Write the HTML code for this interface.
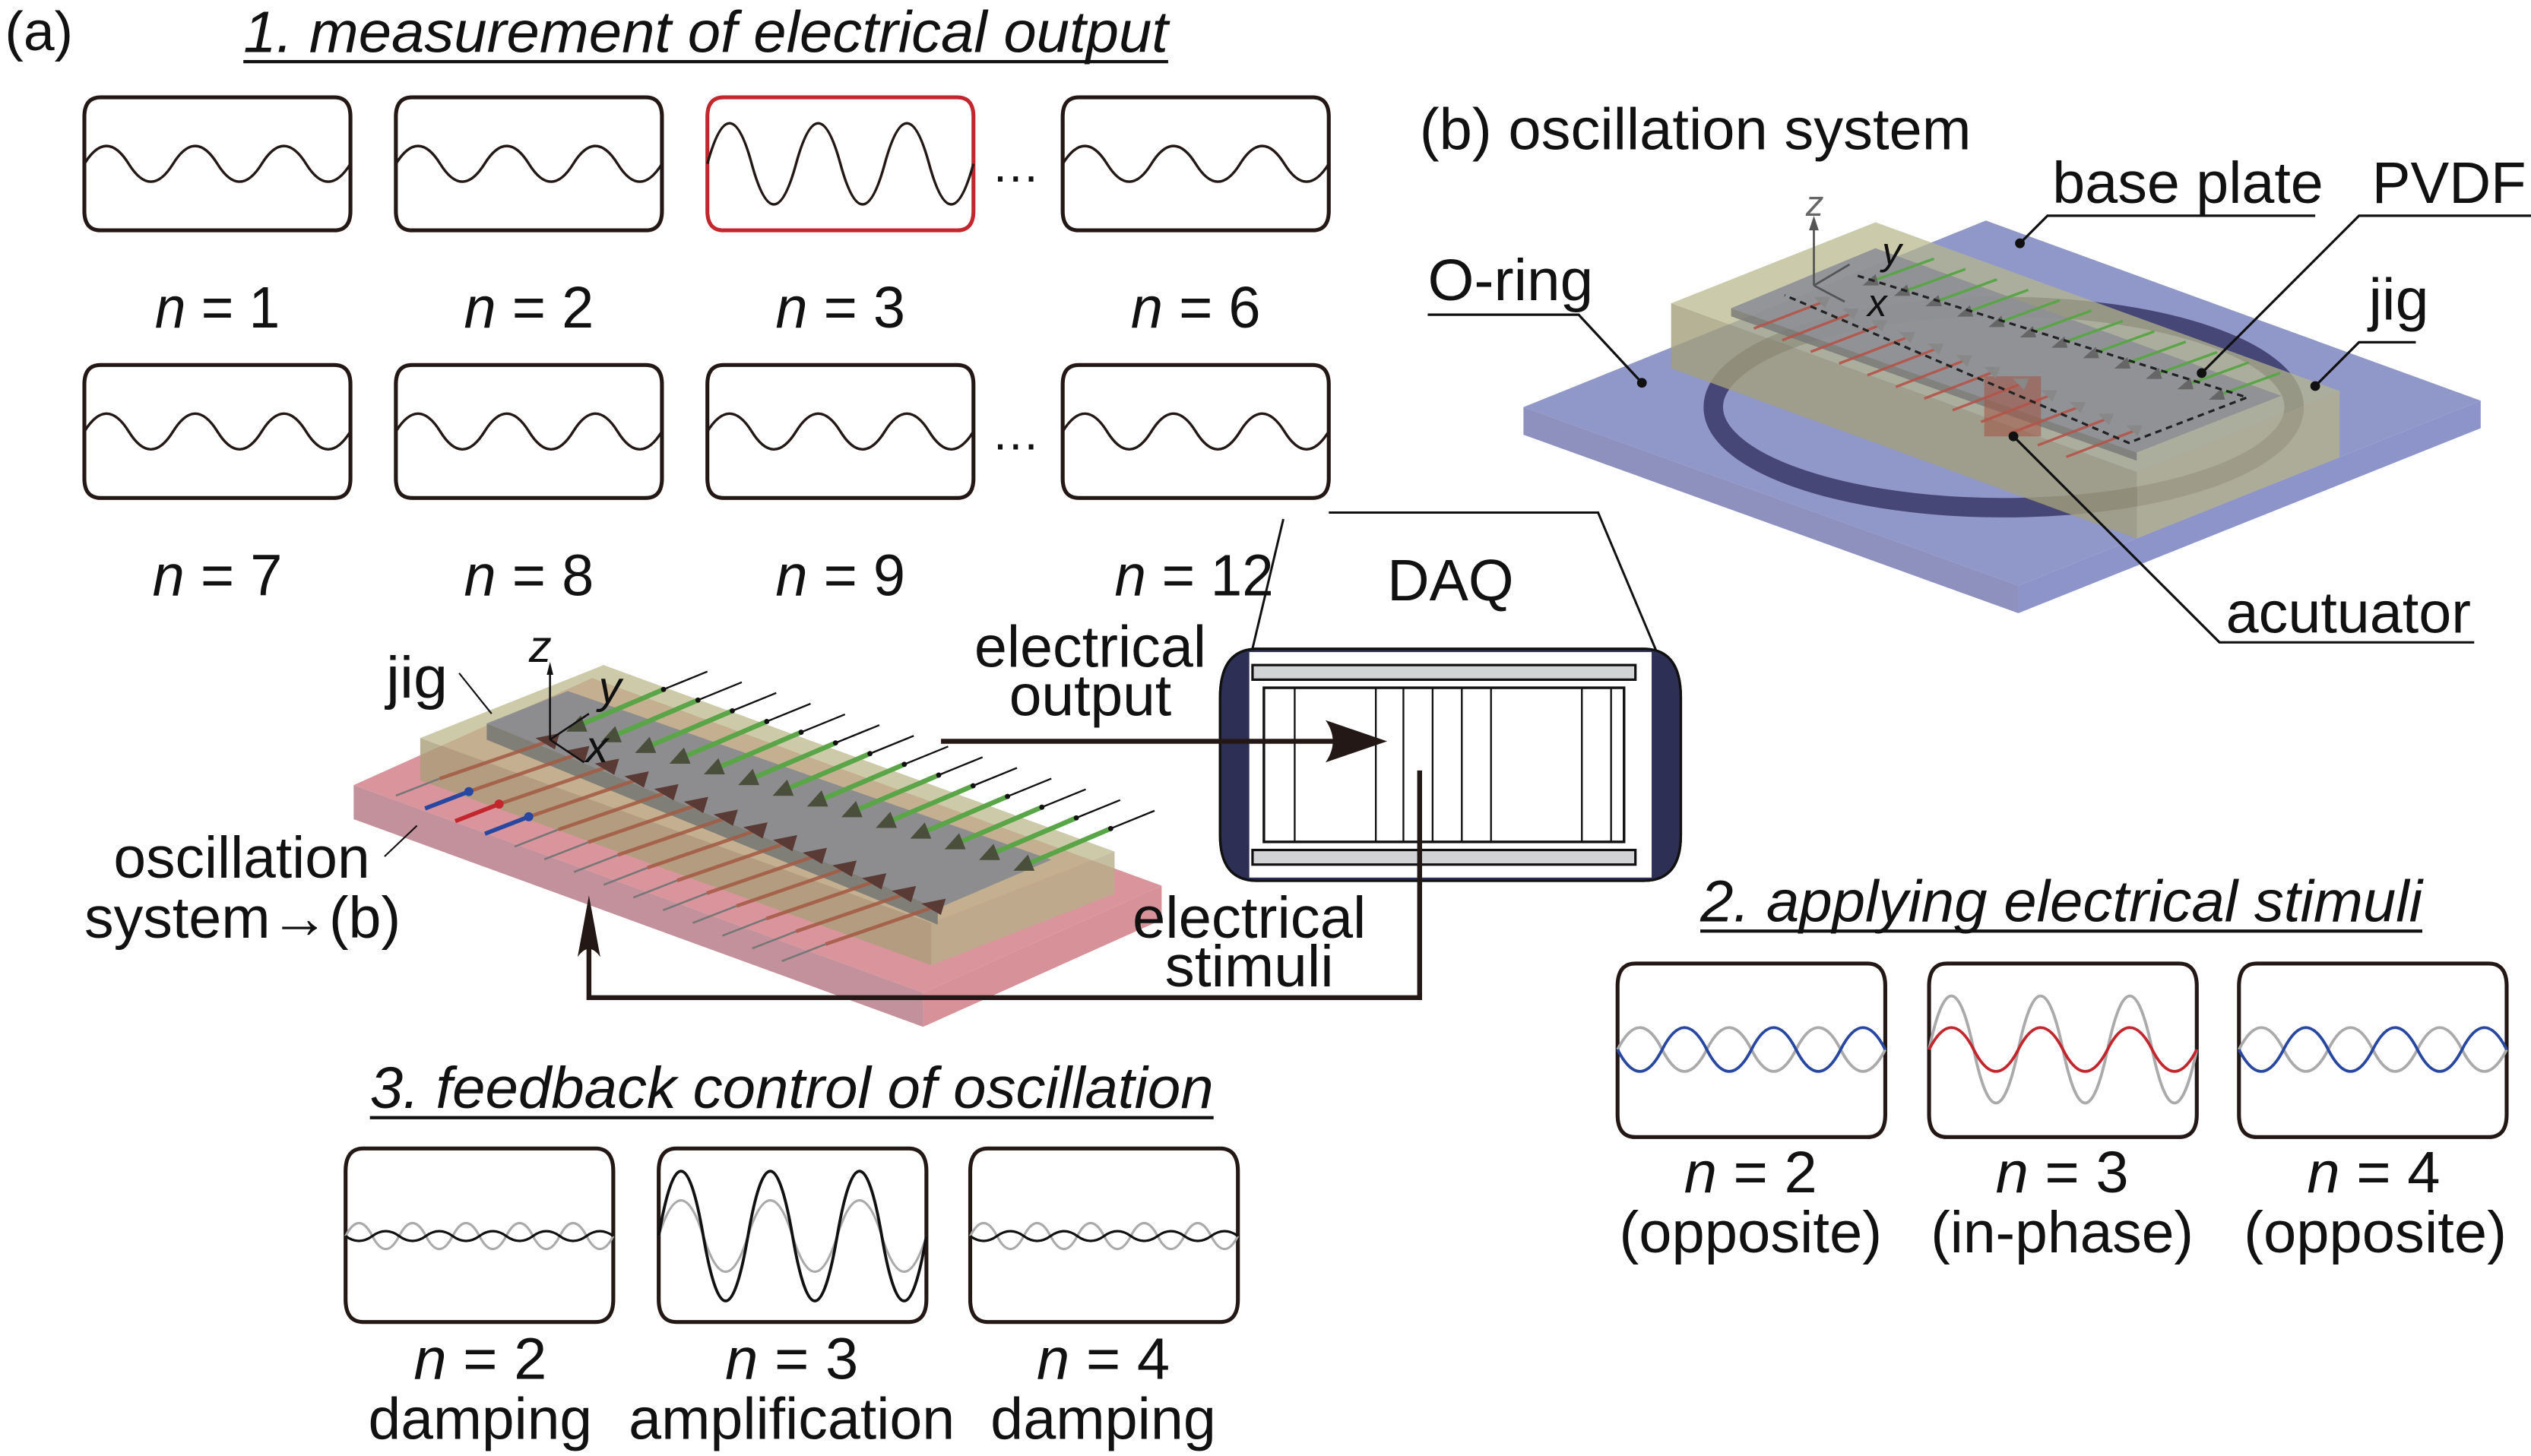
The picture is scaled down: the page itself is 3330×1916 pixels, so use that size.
<!DOCTYPE html>
<html><head><meta charset="utf-8"><style>
html,body{margin:0;padding:0;background:#fff;}
svg{display:block;}
text{font-family:"Liberation Sans",sans-serif;fill:#111;}
</style></head><body>
<svg width="3330" height="1916" viewBox="0 0 1560 897.6" preserveAspectRatio="none" xmlns="http://www.w3.org/2000/svg">
<defs>
<path id="w1" d="M0 0 q13.67 -22 27.33 0 t27.33 0 t27.33 0 t27.33 0 t27.33 0 t27.33 0" fill="none" stroke="#231815" stroke-width="1.6"/>
<path id="w1r" d="M0 0 q13.67 -50 27.33 0 t27.33 0 t27.33 0 t27.33 0 t27.33 0 t27.33 0" fill="none" stroke="#231815" stroke-width="1.6"/>
<path id="box" d="M10 0 H154 Q164 0 164 12 V70 Q164 82 154 82 H10 Q0 82 0 70 V12 Q0 0 10 0Z" fill="none" stroke="#231815" stroke-width="2.4"/>
<path id="box2" d="M11 0 H154 Q165 0 165 14 V93 Q165 107 154 107 H11 Q0 107 0 93 V14 Q0 0 11 0Z" fill="none" stroke="#231815" stroke-width="2.4"/>
<g id="ga">
<line x1="355" y1="448" x2="409" y2="425" stroke="#5aa547" stroke-width="3"/>
<line x1="409" y1="425" x2="436" y2="414" stroke="#111" stroke-width="1.1"/>
<circle cx="409" cy="425" r="1.6" fill="#111"/>
<polygon points="349,451 362,451 358,441" fill="#4a4f3c"/>
</g>
<g id="ra">
<line x1="338" y1="457" x2="271" y2="480" stroke="#a45a44" stroke-width="2.2" opacity="0.85"/>
<line x1="271" y1="480" x2="244" y2="490.5" stroke="#777" stroke-width="1.2"/>
<polygon points="330,455 345,452 342,462" fill="#5a3a35"/>
</g>
<g id="gb">
<line x1="1152" y1="174" x2="1192" y2="159.5" stroke="#5aa547" stroke-width="1.6"/>
<polygon points="1148,176 1158,176 1156,169" fill="#666"/>
</g>
<g id="rb">
<line x1="1124" y1="186" x2="1081" y2="202.5" stroke="#b5544a" stroke-width="1.6" opacity="0.9"/>
<polygon points="1118,183 1128,183 1125,190" fill="#888"/>
</g>
</defs>

<!-- (a) title -->
<text x="3" y="31" font-size="34" textLength="42" lengthAdjust="spacingAndGlyphs">(a)</text>
<text x="150" y="32" font-size="36" font-style="italic" textLength="570" lengthAdjust="spacingAndGlyphs">1. measurement of electrical output</text>
<line x1="150" y1="38" x2="720" y2="38" stroke="#111" stroke-width="2"/>

<!-- row1 -->
<g transform="translate(52,60)"><use href="#box"/><use href="#w1" y="41"/></g>
<g transform="translate(244,60)"><use href="#box"/><use href="#w1" y="41"/></g>
<g transform="translate(436,60)"><path d="M10 0 H154 Q164 0 164 12 V70 Q164 82 154 82 H10 Q0 82 0 70 V12 Q0 0 10 0Z" fill="none" stroke="#c1272d" stroke-width="2.4"/><use href="#w1r" y="41"/></g>
<g transform="translate(655,60)"><use href="#box"/><use href="#w1" y="41"/></g>
<text x="611" y="112" font-size="30">…</text>
<!-- row2 -->
<g transform="translate(52,225)"><use href="#box"/><use href="#w1" y="41"/></g>
<g transform="translate(244,225)"><use href="#box"/><use href="#w1" y="41"/></g>
<g transform="translate(436,225)"><use href="#box"/><use href="#w1" y="41"/></g>
<g transform="translate(655,225)"><use href="#box"/><use href="#w1" y="41"/></g>
<text x="611" y="277" font-size="30">…</text>

<g font-size="36" text-anchor="middle">
<text x="134" y="202" textLength="77" lengthAdjust="spacingAndGlyphs"><tspan font-style="italic">n</tspan> = 1</text>
<text x="326" y="202" textLength="80" lengthAdjust="spacingAndGlyphs"><tspan font-style="italic">n</tspan> = 2</text>
<text x="518" y="202" textLength="80" lengthAdjust="spacingAndGlyphs"><tspan font-style="italic">n</tspan> = 3</text>
<text x="737" y="202" textLength="80" lengthAdjust="spacingAndGlyphs"><tspan font-style="italic">n</tspan> = 6</text>
<text x="134" y="367" textLength="80" lengthAdjust="spacingAndGlyphs"><tspan font-style="italic">n</tspan> = 7</text>
<text x="326" y="367" textLength="80" lengthAdjust="spacingAndGlyphs"><tspan font-style="italic">n</tspan> = 8</text>
<text x="518" y="367" textLength="80" lengthAdjust="spacingAndGlyphs"><tspan font-style="italic">n</tspan> = 9</text>
<text x="736" y="367" textLength="98" lengthAdjust="spacingAndGlyphs"><tspan font-style="italic">n</tspan> = 12</text>
</g>

<!-- DAQ callout lines -->
<polyline points="819,316 985,316 1022,404" fill="none" stroke="#111" stroke-width="1.4"/>
<line x1="791" y1="320" x2="771" y2="404" stroke="#111" stroke-width="1.4"/>
<text x="855" y="370" font-size="36" textLength="78" lengthAdjust="spacingAndGlyphs">DAQ</text>
<!-- DAQ box -->
<path d="M775 400 H1013 Q1036 400 1036 430 V515 Q1036 543 1013 543 H775 Q752 543 752 515 V430 Q752 400 775 400Z" fill="#2e2f55" stroke="#111" stroke-width="1.5"/>
<rect x="770" y="402" width="248" height="139" fill="#fff"/>
<path d="M775 400 H1013 Q1036 400 1036 430 V515 Q1036 543 1013 543 H775 Q752 543 752 515 V430 Q752 400 775 400Z" fill="none" stroke="#111" stroke-width="1.5"/>
<rect x="772" y="410" width="236" height="9" fill="#d1d3d4" stroke="#111" stroke-width="1.5"/>
<rect x="772" y="524" width="236" height="9" fill="#d1d3d4" stroke="#111" stroke-width="1.5"/>
<rect x="779" y="424" width="222" height="95" fill="#fff" stroke="#111" stroke-width="1.6"/>
<g stroke="#111" stroke-width="1.1">
<line x1="798" y1="424" x2="798" y2="519"/><line x1="848" y1="424" x2="848" y2="519"/><line x1="865" y1="424" x2="865" y2="519"/>
<line x1="883" y1="424" x2="883" y2="519"/><line x1="901" y1="424" x2="901" y2="519"/><line x1="919" y1="424" x2="919" y2="519"/>
<line x1="975" y1="424" x2="975" y2="519"/><line x1="993" y1="424" x2="993" y2="519"/>
</g>

<!-- Device (a) -->
<g>
<polygon points="218,484 569,612 716,546 365,418" fill="#d9959b"/>
<polygon points="218,484 569,612 569,633 218,505" fill="#c2919c"/>
<polygon points="569,612 716,546 716,567 569,633" fill="#d69199"/>
<polygon points="259,455 574,569 687,525 372,410" fill="#bcb88e" opacity="0.75"/>
<polygon points="259,455 574,569 574,595 259,481" fill="#a99d78" opacity="0.8"/>
<polygon points="574,569 687,525 687,551 574,595" fill="#b8ae88" opacity="0.8"/>
<polygon points="300,446 578,560 648,530 350,426" fill="#878990" opacity="0.9"/>
<polygon points="300,446 578,560 578,570 300,456" fill="#6f7370" opacity="0.8"/>
<use href="#ga"/><use href="#ga" transform="translate(21.2,6.6)"/><use href="#ga" transform="translate(42.4,13.2)"/><use href="#ga" transform="translate(63.6,19.8)"/>
<use href="#ga" transform="translate(84.8,26.4)"/><use href="#ga" transform="translate(106,33)"/><use href="#ga" transform="translate(127.2,39.6)"/>
<use href="#ga" transform="translate(148.4,46.2)"/><use href="#ga" transform="translate(169.6,52.8)"/><use href="#ga" transform="translate(190.8,59.4)"/>
<use href="#ga" transform="translate(212,66)"/><use href="#ga" transform="translate(233.2,72.6)"/><use href="#ga" transform="translate(254.4,79.2)"/>
<use href="#ga" transform="translate(275.6,85.8)"/>
<use href="#ra"/><use href="#ra" transform="translate(18.3,7.85)"/><use href="#ra" transform="translate(36.6,15.7)"/><use href="#ra" transform="translate(54.9,23.55)"/>
<use href="#ra" transform="translate(73.2,31.4)"/><use href="#ra" transform="translate(91.5,39.25)"/><use href="#ra" transform="translate(109.8,47.1)"/>
<use href="#ra" transform="translate(128.1,54.95)"/><use href="#ra" transform="translate(146.4,62.8)"/><use href="#ra" transform="translate(164.7,70.65)"/>
<use href="#ra" transform="translate(183,78.5)"/><use href="#ra" transform="translate(201.3,86.35)"/><use href="#ra" transform="translate(219.6,94.2)"/>
<use href="#ra" transform="translate(237.9,102.05)"/>
<line x1="289" y1="488" x2="262" y2="498.4" stroke="#2847a0" stroke-width="2.6"/><circle cx="289" cy="488" r="2.8" fill="#2847a0"/>
<line x1="307.6" y1="495.7" x2="280.6" y2="506.2" stroke="#c1272d" stroke-width="2.6"/><circle cx="307.6" cy="495.7" r="2.8" fill="#c1272d"/>
<line x1="325.9" y1="503.5" x2="298.9" y2="514" stroke="#2847a0" stroke-width="2.6"/><circle cx="325.9" cy="503.5" r="2.8" fill="#2847a0"/>
<!-- axes -->
<g stroke="#111" stroke-width="1.2" fill="none">
<line x1="339" y1="456" x2="339" y2="412"/><line x1="339" y1="456" x2="363" y2="440"/><line x1="339" y1="456" x2="360" y2="470"/>
</g>
<polygon points="339,408 337,416 341,416" fill="#111"/>
<text x="326" y="408" font-size="28" font-style="italic">z</text>
<text x="369" y="433" font-size="28" font-style="italic">y</text>
<text x="361" y="470" font-size="28" font-style="italic">x</text>
<text x="238" y="430" font-size="36" textLength="38" lengthAdjust="spacingAndGlyphs">jig</text>
<line x1="283" y1="415" x2="303" y2="440" stroke="#111" stroke-width="1"/>
<text x="70" y="541" font-size="36" textLength="158" lengthAdjust="spacingAndGlyphs">oscillation</text>
<text x="52" y="578" font-size="36" textLength="195" lengthAdjust="spacingAndGlyphs">system→(b)</text>
<line x1="237" y1="528" x2="257" y2="509" stroke="#111" stroke-width="1"/>
</g>

<!-- arrows -->
<line x1="580" y1="457" x2="840" y2="457" stroke="#231815" stroke-width="3"/>
<path d="M855 457 L817 444 Q826 457 817 470 Z" fill="#231815"/>
<polyline points="875,475 875,615 363,615 363,570" fill="none" stroke="#231815" stroke-width="3"/>
<path d="M363 552 L356 590 Q363 580 370 590 Z" fill="#231815"/>
<text x="672" y="411" font-size="36" text-anchor="middle" textLength="143" lengthAdjust="spacingAndGlyphs">electrical</text>
<text x="672" y="441" font-size="36" text-anchor="middle" textLength="100" lengthAdjust="spacingAndGlyphs">output</text>
<text x="770" y="578" font-size="36" text-anchor="middle" textLength="144" lengthAdjust="spacingAndGlyphs">electrical</text>
<text x="770" y="608" font-size="36" text-anchor="middle" textLength="104" lengthAdjust="spacingAndGlyphs">stimuli</text>

<!-- section 3 -->
<text x="228" y="683" font-size="36" font-style="italic" textLength="520" lengthAdjust="spacingAndGlyphs">3. feedback control of oscillation</text>
<line x1="228" y1="689" x2="748" y2="689" stroke="#111" stroke-width="2"/>
<g transform="translate(213,708)"><use href="#box2"/>
<path d="M0 54 q8.25 -16 16.5 0 t16.5 0 t16.5 0 t16.5 0 t16.5 0 t16.5 0 t16.5 0 t16.5 0 t16.5 0 t16.5 0" fill="none" stroke="#aaa" stroke-width="1.5"/>
<path d="M0 54 q8.25 6 16.5 0 t16.5 0 t16.5 0 t16.5 0 t16.5 0 t16.5 0 t16.5 0 t16.5 0 t16.5 0 t16.5 0" fill="none" stroke="#111" stroke-width="1.5"/></g>
<g transform="translate(406,708)"><use href="#box2"/>
<path d="M0 54 q13.75 -44 27.5 0 t27.5 0 t27.5 0 t27.5 0 t27.5 0 t27.5 0" fill="none" stroke="#aaa" stroke-width="1.5"/>
<path d="M0 54 q13.75 -80 27.5 0 t27.5 0 t27.5 0 t27.5 0 t27.5 0 t27.5 0" fill="none" stroke="#111" stroke-width="1.8"/></g>
<g transform="translate(598,708)"><use href="#box2"/>
<path d="M0 54 q8.25 -16 16.5 0 t16.5 0 t16.5 0 t16.5 0 t16.5 0 t16.5 0 t16.5 0 t16.5 0 t16.5 0 t16.5 0" fill="none" stroke="#aaa" stroke-width="1.5"/>
<path d="M0 54 q8.25 6 16.5 0 t16.5 0 t16.5 0 t16.5 0 t16.5 0 t16.5 0 t16.5 0 t16.5 0 t16.5 0 t16.5 0" fill="none" stroke="#111" stroke-width="1.5"/></g>
<g font-size="36" text-anchor="middle">
<text x="296" y="850" textLength="82" lengthAdjust="spacingAndGlyphs"><tspan font-style="italic">n</tspan> = 2</text>
<text x="488" y="850" textLength="82" lengthAdjust="spacingAndGlyphs"><tspan font-style="italic">n</tspan> = 3</text>
<text x="680" y="850" textLength="82" lengthAdjust="spacingAndGlyphs"><tspan font-style="italic">n</tspan> = 4</text>
<text x="296" y="887" textLength="138" lengthAdjust="spacingAndGlyphs">damping</text>
<text x="488" y="887" textLength="201" lengthAdjust="spacingAndGlyphs">amplification</text>
<text x="680" y="887" textLength="139" lengthAdjust="spacingAndGlyphs">damping</text>
</g>

<!-- section 2 -->
<text x="1048" y="568" font-size="36" font-style="italic" textLength="445" lengthAdjust="spacingAndGlyphs">2. applying electrical stimuli</text>
<line x1="1048" y1="574" x2="1493" y2="574" stroke="#111" stroke-width="2"/>
<g transform="translate(997,594)"><use href="#box2"/>
<path d="M0 53 q13.75 -27 27.5 0 t27.5 0 t27.5 0 t27.5 0 t27.5 0 t27.5 0" fill="none" stroke="#aaa" stroke-width="1.8"/>
<path d="M0 53 q13.75 27 27.5 0 t27.5 0 t27.5 0 t27.5 0 t27.5 0 t27.5 0" fill="none" stroke="#2847a0" stroke-width="1.8"/></g>
<g transform="translate(1189,594)"><use href="#box2"/>
<path d="M0 53 q13.75 -66 27.5 0 t27.5 0 t27.5 0 t27.5 0 t27.5 0 t27.5 0" fill="none" stroke="#aaa" stroke-width="1.8"/>
<path d="M0 53 q13.75 -27 27.5 0 t27.5 0 t27.5 0 t27.5 0 t27.5 0 t27.5 0" fill="none" stroke="#c1272d" stroke-width="1.8"/></g>
<g transform="translate(1380,594)"><use href="#box2"/>
<path d="M0 53 q13.75 -27 27.5 0 t27.5 0 t27.5 0 t27.5 0 t27.5 0 t27.5 0" fill="none" stroke="#aaa" stroke-width="1.8"/>
<path d="M0 53 q13.75 27 27.5 0 t27.5 0 t27.5 0 t27.5 0 t27.5 0 t27.5 0" fill="none" stroke="#2847a0" stroke-width="1.8"/></g>
<g font-size="36" text-anchor="middle">
<text x="1079" y="735" textLength="82" lengthAdjust="spacingAndGlyphs"><tspan font-style="italic">n</tspan> = 2</text>
<text x="1271" y="735" textLength="82" lengthAdjust="spacingAndGlyphs"><tspan font-style="italic">n</tspan> = 3</text>
<text x="1463" y="735" textLength="82" lengthAdjust="spacingAndGlyphs"><tspan font-style="italic">n</tspan> = 4</text>
<text x="1079" y="772" textLength="162" lengthAdjust="spacingAndGlyphs">(opposite)</text>
<text x="1271" y="772" textLength="162" lengthAdjust="spacingAndGlyphs">(in-phase)</text>
<text x="1464" y="772" textLength="162" lengthAdjust="spacingAndGlyphs">(opposite)</text>
</g>

<!-- (b) -->
<text x="875" y="92" font-size="36" textLength="340" lengthAdjust="spacingAndGlyphs">(b) oscillation system</text>
<polygon points="939,251 1224,136 1529,247 1244,361" fill="#9097c9"/>
<polygon points="939,251 1244,361 1244,378 939,268" fill="#8e90bd"/>
<polygon points="1244,361 1529,247 1529,264 1244,378" fill="#8c94c9"/>
<ellipse cx="1235" cy="251" rx="179" ry="62" fill="none" stroke="#464777" stroke-width="12"/>
<polygon points="1030,187 1156,137 1442,241 1317,291" fill="#b7b78c" opacity="0.72"/>
<polygon points="1030,187 1317,291 1317,332 1030,227" fill="#a39f7c" opacity="0.8"/>
<polygon points="1317,291 1442,241 1442,282 1317,332" fill="#b4b18c" opacity="0.8"/>
<polygon points="1067,190 1156,153 1406,244 1317,279" fill="#8d8f96" opacity="0.9"/>
<polygon points="1067,190 1317,279 1317,284 1067,195" fill="#777" opacity="0.8"/>
<rect x="1223" y="232" width="35" height="37" fill="#a0584a" opacity="0.6"/>
<use href="#gb"/><use href="#gb" transform="translate(19.4,6.4)"/><use href="#gb" transform="translate(38.8,12.8)"/><use href="#gb" transform="translate(58.2,19.2)"/>
<use href="#gb" transform="translate(77.6,25.6)"/><use href="#gb" transform="translate(97,32)"/><use href="#gb" transform="translate(116.4,38.4)"/>
<use href="#gb" transform="translate(135.8,44.8)"/><use href="#gb" transform="translate(155.2,51.2)"/><use href="#gb" transform="translate(174.6,57.6)"/>
<use href="#gb" transform="translate(194,64)"/><use href="#gb" transform="translate(213.4,70.4)"/>
<use href="#rb"/><use href="#rb" transform="translate(17.5,7.2)"/><use href="#rb" transform="translate(35,14.4)"/><use href="#rb" transform="translate(52.5,21.6)"/>
<use href="#rb" transform="translate(70,28.8)"/><use href="#rb" transform="translate(87.5,36)"/><use href="#rb" transform="translate(105,43.2)"/>
<use href="#rb" transform="translate(122.5,50.4)"/><use href="#rb" transform="translate(140,57.6)"/><use href="#rb" transform="translate(157.5,64.8)"/>
<use href="#rb" transform="translate(175,72)"/><use href="#rb" transform="translate(192.5,79.2)"/>
<polyline points="1145,170 1385,245 1312,273 1100,182" fill="none" stroke="#222" stroke-width="1.5" stroke-dasharray="4,3"/>
<g stroke="#555" stroke-width="1.3"><line x1="1118" y1="176" x2="1118" y2="138"/><line x1="1118" y1="176" x2="1140" y2="163"/><line x1="1118" y1="176" x2="1137" y2="186"/></g>
<polygon points="1118,133 1115,142 1121,142" fill="#555"/>
<text x="1113" y="133" font-size="22" style="fill:#666" font-style="italic">z</text>
<text x="1160" y="163" font-size="24" font-style="italic">y</text>
<text x="1151" y="195" font-size="24" font-style="italic">x</text>

<g stroke="#111" stroke-width="1.5" fill="none">
<polyline points="1245,150 1262,133 1427,133"/>
<polyline points="1357,230 1454,133 1560,133"/>
<polyline points="1012,236 973,194 880,194"/>
<polyline points="1427,238 1454,211 1489,211"/>
<polyline points="1241,269 1368,396 1525,396"/>
</g>
<g fill="#111"><circle cx="1245" cy="150" r="3"/><circle cx="1357" cy="230" r="3"/><circle cx="1012" cy="236" r="3"/><circle cx="1427" cy="238" r="3"/><circle cx="1241" cy="269" r="3"/></g>
<g font-size="36">
<text x="1265" y="125" textLength="167" lengthAdjust="spacingAndGlyphs">base plate</text>
<text x="1462" y="125" textLength="95" lengthAdjust="spacingAndGlyphs">PVDF</text>
<text x="880" y="185" textLength="102" lengthAdjust="spacingAndGlyphs">O-ring</text>
<text x="1460" y="197" textLength="37" lengthAdjust="spacingAndGlyphs">jig</text>
<text x="1372" y="390" textLength="151" lengthAdjust="spacingAndGlyphs">acutuator</text>
</g>
</svg>
</body></html>
